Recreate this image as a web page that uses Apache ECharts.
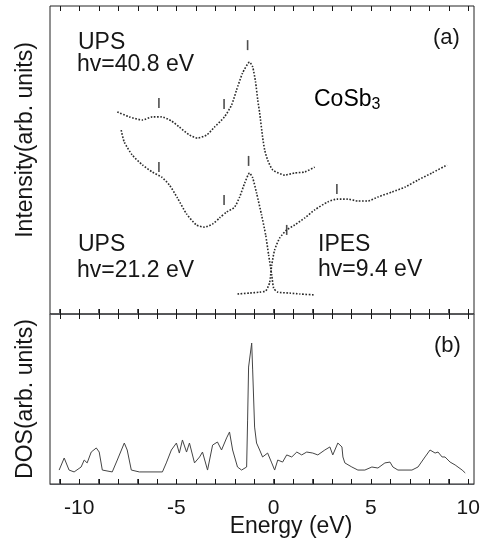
<!DOCTYPE html>
<html>
<head>
<meta charset="utf-8">
<script src="https://cdn.jsdelivr.net/npm/echarts@6/dist/echarts.min.js"></script>
<style>
html,body{margin:0;padding:0;background:#fff;}
#chart{width:495px;height:546px;}
</style>
</head>
<body>
<div id="chart"></div>
<script>
// ---- data (energy in eV, intensity / DOS in arbitrary units) ----
const upsHighE = [-8.04,-7.42,-6.75,-6.24,-5.77,-5.26,-4.85,-4.33,-3.92,-3.45,-3.04,-2.53,-2.16,-1.91,-1.60,-1.24,-1.08,-0.93,-0.82,-0.72,-0.57,-0.46,-0.31,-0.05,0.57,1.08,1.60,2.11];
const upsHighI = [65.6,64.0,63.0,64.0,64.0,62.7,60.7,58.1,57.1,58.1,60.7,64.0,67.9,72.7,78.2,81.8,80.2,75.3,69.5,65.3,57.5,53.2,50.0,46.8,45.1,45.8,46.1,47.7];

const upsLowE = [-7.84,-7.68,-7.27,-6.75,-6.24,-5.77,-5.36,-4.95,-4.48,-3.97,-3.56,-3.14,-2.78,-2.42,-2.01,-1.75,-1.49,-1.24,-1.08,-0.88,-0.62,-0.41,-0.26,-0.10,0.0,0.21,0.82,1.34,2.11];
const upsLowI = [59.7,55.8,51.6,48.4,46.1,44.5,41.9,37.7,32.5,28.9,28.2,29.2,31.2,33.1,34.7,38.0,42.5,45.8,44.2,39.3,32.1,25.6,19.2,12.7,8.4,7.1,6.8,6.5,6.2];

const ipesE = [-1.86,-1.24,-0.72,-0.41,-0.21,-0.10,0.05,0.31,0.67,1.08,1.60,2.11,2.78,3.25,3.81,4.33,4.85,5.36,6.08,6.75,7.42,8.14,8.92];
const ipesI = [6.5,6.8,7.1,7.5,10.1,15.9,20.8,24.7,27.3,28.9,31.2,33.8,36.4,37.3,37.3,36.7,36.7,38.0,39.6,41.2,43.5,45.8,48.4];

const peakMarkE = [-5.9,-2.55,-1.34,-5.9,-2.55,-1.29,0.67,3.25];
const peakMarkI = [68.5,68.2,87.3,47.7,37.0,49.7,27.3,40.6];

const dosE = [-11.03,-10.77,-10.52,-10.26,-9.90,-9.74,-9.59,-9.38,-9.12,-8.97,-8.81,-8.30,-8.04,-7.68,-7.53,-7.32,-6.91,-5.72,-5.52,-5.26,-5.00,-4.85,-4.69,-4.48,-4.33,-4.07,-3.81,-3.66,-3.40,-3.14,-2.89,-2.68,-2.42,-2.27,-2.11,-1.86,-1.65,-1.39,-1.34,-1.29,-1.13,-1.08,-0.98,-0.88,-0.72,-0.57,-0.31,-0.10,0.05,0.21,0.46,0.67,0.93,1.19,1.44,1.70,2.01,2.27,2.63,2.89,3.04,3.30,3.51,3.56,3.66,4.02,4.33,4.69,5.05,5.36,5.72,5.98,6.13,6.39,7.11,7.42,7.78,8.04,8.30,8.45,8.66,8.81,9.07,9.33,9.69,9.85];
const dosV = [8.2,15.3,8.2,7.1,10.0,14.1,12.4,18.8,21.2,18.8,8.2,7.1,14.1,24.1,20.0,8.2,7.1,7.1,12.4,20.0,24.1,18.2,25.9,18.8,24.1,12.4,15.9,18.8,8.2,22.9,24.7,20.0,27.1,30.6,20.0,10.0,8.2,10.0,37.6,68.8,82.9,67.1,33.5,24.1,20.0,15.9,18.2,12.4,8.2,14.1,12.9,17.1,15.9,18.8,17.1,18.8,18.2,17.1,20.0,21.8,17.1,24.1,21.8,15.9,12.4,10.0,8.2,8.2,10.0,9.4,12.4,12.9,10.0,8.2,8.2,10.0,15.9,20.0,18.2,18.8,15.9,15.9,12.9,11.2,8.2,6.5];

const energyTicks = [-11,-10,-9,-8,-7,-6,-5,-4,-3,-2,-1,0,1,2,3,4,5,6,7,8,9,10];
const energyLabels = [-10,-5,0,5,10];

// ---- build ----
const zip = (a,b) => a.map((v,i) => [v, b[i]]);
const FONT = 'Liberation Sans';
const INK = '#161616';

const chart = echarts.init(document.getElementById('chart'));

function xAx(grid, labels) {
  return {
    type:'value', gridIndex:grid, min:-11.5, max:10.3,
    axisLine:{show:true, onZero:false},
    axisTick:{show:true, inside:true, length:5, customValues:energyTicks},
    axisLabel:{show:labels, customValues:energyLabels, fontFamily:FONT, fontSize:21, color:INK, margin:14},
    splitLine:{show:false}
  };
}
function yAx(grid, name, pad) {
  return {
    type:'value', gridIndex:grid, min:0, max:100,
    axisLine:{show:false, onZero:false}, axisTick:{show:false}, axisLabel:{show:false}, splitLine:{show:false},
    name:name, nameLocation:'middle', nameGap:13,
    nameTextStyle:{fontFamily:FONT, fontSize:23, color:INK, padding:pad}
  };
}
// frame tick marks at each whole eV, placed through the axis scale (api.coord)
function tickSeries(xi, yi, yVal, dir) {
  return {
    type:'custom', xAxisIndex:xi, yAxisIndex:yi, silent:true, clip:false, z:6,
    data:energyTicks.map(e => [e, yVal]),
    renderItem:function(params, api){
      const p = api.coord([api.value(0), api.value(1)]);
      const x = Math.round(p[0]) + 0.5;
      return {type:'line', shape:{x1:x, y1:p[1], x2:x, y2:p[1] + dir*5}, style:{stroke:INK, lineWidth:1}};
    }
  };
}

const dotted = {color:'#2a2a2a', width:1.6, type:'dotted'};
const T = (s) => ({font:'23px "Liberation Sans"', fill:INK, text:s});

chart.setOption({
  animation:false,
  grid:[
    {left:50, top:6, width:424, height:308, show:true, borderColor:'#222', borderWidth:1},
    {left:50, top:314, width:424, height:170, show:true, borderColor:'#222', borderWidth:1}
  ],
  xAxis:[ xAx(0,false), xAx(1,true) ],
  yAxis:[
    yAx(0,'Intensity(arb. units)',[0,0,0,40]),
    yAx(1,'DOS(arb. units)',[0,0,0,0])
  ],
  series:[
    {type:'line', xAxisIndex:0, yAxisIndex:0, data:zip(upsHighE, upsHighI), showSymbol:false, lineStyle:dotted, smooth:0.2},
    {type:'line', xAxisIndex:0, yAxisIndex:0, data:zip(upsLowE, upsLowI), showSymbol:false, lineStyle:dotted, smooth:0.2},
    {type:'line', xAxisIndex:0, yAxisIndex:0, data:zip(ipesE, ipesI), showSymbol:false, lineStyle:dotted, smooth:0.2},
    {type:'scatter', xAxisIndex:0, yAxisIndex:0, data:zip(peakMarkE, peakMarkI), symbol:'rect', symbolSize:[1.6,10], itemStyle:{color:'#222'}},
    {type:'line', xAxisIndex:1, yAxisIndex:1, data:zip(dosE, dosV), showSymbol:false, lineStyle:{color:'#444', width:1}},
    tickSeries(0,0,100,1),
    tickSeries(0,0,0,-1),
    tickSeries(1,1,100,1),
    tickSeries(1,1,0,-1)
  ],
  graphic:[
    {type:'text', left:78, top:31, style:T('UPS')},
    {type:'text', left:77, top:53, style:T('hv=40.8 eV')},
    {type:'text', left:433, top:27, style:{text:'(a)', font:'22px "Liberation Sans"', fill:INK}},
    {type:'text', left:314, top:88, style:{text:'{m|CoSb}{s|3}', rich:{m:{fontFamily:FONT, fontSize:23, color:INK}, s:{fontFamily:FONT, fontSize:16, color:INK, padding:[11,0,0,0]}}}},
    {type:'text', left:318, top:233, style:T('IPES')},
    {type:'text', left:318, top:258, style:T('hv=9.4 eV')},
    {type:'text', left:78, top:233, style:T('UPS')},
    {type:'text', left:77, top:259, style:T('hv=21.2 eV')},
    {type:'text', left:434, top:335, style:{text:'(b)', font:'22px "Liberation Sans"', fill:INK}},
    {type:'text', x:291, y:527, style:{text:'Energy (eV)', font:'23px "Liberation Sans"', fill:INK, textAlign:'center', textVerticalAlign:'middle'}}
  ]
});
</script>
</body>
</html>
